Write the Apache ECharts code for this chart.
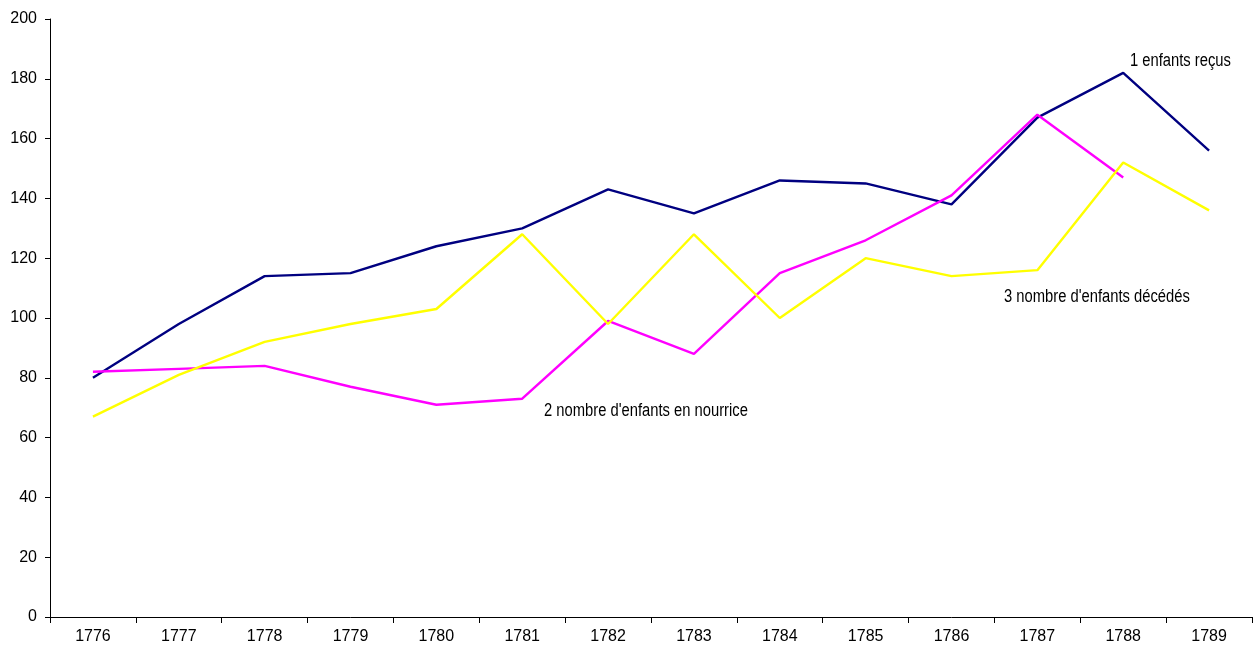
<!DOCTYPE html>
<html><head><meta charset="utf-8">
<script src="https://cdn.jsdelivr.net/npm/echarts@6/dist/echarts.min.js"></script>
<style>html,body{margin:0;padding:0;background:#fff}#c{width:1255px;height:657px}</style>
</head><body><div id="c"></div>
<script>
const years = ['1776','1777','1778','1779','1780','1781','1782','1783','1784','1785','1786','1787','1788','1789'];
const enfantsRecus = [80,98,114,115,124,130,143,135,146,145,138,167,182,156];
const enfantsNourrice = [82,83,84,77,71,73,99,88,115,126,141,168,147,null];
const enfantsDecedes = [67,81,92,98,103,128,98,128,100,120,114,116,152,136];
const yTicks = [0,20,40,60,80,100,120,140,160,180,200];

const FONT = '"Liberation Sans Narrow", "Arial Narrow", "Liberation Sans", sans-serif';
const chart = echarts.init(document.getElementById('c'));
const mk = (name, data, color) => ({
  name, type:'line', data, symbol:'none', smooth:false, connectNulls:false,
  lineStyle:{color, width:2.4}, itemStyle:{color}, animation:false
});
const note = (text, left, top) => ({type:'text', left, top, scaleX:0.82,
  style:{text, font:'18px '+FONT, fill:'#000'}});
chart.setOption({
  animation:false,
  grid:{left:50, right:3, top:19, bottom:40},
  xAxis:{type:'category', data:years, boundaryGap:true,
    axisLine:{lineStyle:{color:'#000', width:1}},
    axisTick:{show:true, inside:false, length:6, alignWithLabel:false, lineStyle:{color:'#000'}},
    axisLabel:{color:'#000', fontFamily:FONT, fontSize:16, margin:12}},
  yAxis:{type:'value', min:yTicks[0], max:yTicks[yTicks.length-1], interval:20,
    axisLine:{show:true, lineStyle:{color:'#000', width:1}},
    axisTick:{show:true, length:5, lineStyle:{color:'#000'}},
    splitLine:{show:false},
    axisLabel:{color:'#000', fontFamily:FONT, fontSize:16, margin:13}},
  series:[
    mk('1 enfants reçus', enfantsRecus, '#000080'),
    mk("2 nombre d'enfants en nourrice", enfantsNourrice, '#ff00ff'),
    mk("3 nombre d'enfants décédés", enfantsDecedes, '#ffff00')
  ],
  graphic:[
    note('1 enfants reçus', 1130, 52),
    note("2 nombre d'enfants en nourrice", 544, 402),
    note("3 nombre d'enfants décédés", 1004, 288)
  ]
});
</script></body></html>
